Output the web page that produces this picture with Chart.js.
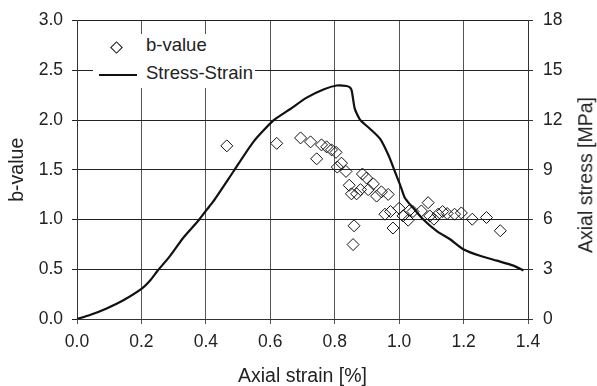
<!DOCTYPE html>
<html>
<head>
<meta charset="utf-8">
<script src="https://cdn.jsdelivr.net/npm/chart.js@4/dist/chart.umd.min.js"></script>
<style>
  html, body { margin: 0; padding: 0; background: #fff; }
  #wrap { position: relative; width: 597px; height: 386px; }
  #legend {
    position: absolute; left: 93px; top: 34px; width: 162px; height: 54px;
    background: #fff; font-family: "Liberation Sans", Arial, sans-serif;
    font-size: 18.5px; color: #222;
  }
  #legend .diamond {
    position: absolute; left: 19px; top: 9px; width: 7px; height: 7px;
    border: 1px solid #111; transform: rotate(45deg);
  }
  #legend .line {
    position: absolute; left: 6px; top: 40px; width: 38px; height: 2px; background: #111;
  }
  #legend .lbl { position: absolute; left: 53px; white-space: nowrap; }
  #rtitle {
    position: absolute; left: 586px; top: 175px; white-space: nowrap;
    font-family: "Liberation Sans", Arial, sans-serif; font-size: 19.5px; color: #222;
    line-height: 1; transform: translate(-50%, -50%) rotate(-90deg);
  }
</style>
</head>
<body>
<div id="wrap">
  <canvas id="chart" width="597" height="386"></canvas>
  <div id="legend">
    <span class="diamond"></span>
    <span class="lbl" style="top:0px">b-value</span>
    <span class="line"></span>
    <span class="lbl" style="top:28px">Stress-Strain</span>
  </div>
  <div id="rtitle">Axial stress [MPa]</div>
</div>
<script>
// b-value measurements
const bStrain = [0.465, 0.62, 0.694, 0.725, 0.744, 0.759, 0.775, 0.79, 0.804, 0.821, 0.808, 0.835,
  0.845, 0.852, 0.868, 0.88, 0.886, 0.899, 0.904, 0.92, 0.93, 0.945, 0.966, 0.956, 0.973, 0.981,
  1.0, 1.012, 1.028, 1.033, 1.043, 1.069, 1.09, 1.095, 1.108, 1.121, 1.135, 1.149, 1.172, 1.193,
  1.227, 1.271, 1.314, 0.86, 0.857];
const bValue = [1.74, 1.765, 1.82, 1.78, 1.61, 1.75, 1.73, 1.70, 1.675, 1.566, 1.527, 1.483,
  1.344, 1.258, 1.258, 1.30, 1.457, 1.417, 1.30, 1.358, 1.235, 1.278, 1.252, 1.053, 1.08, 0.914,
  1.113, 1.036, 0.993, 1.093, 1.08, 1.086, 1.169, 1.036, 1.003, 1.053, 1.08, 1.06, 1.053, 1.066,
  1.003, 1.02, 0.887, 0.937, 0.748];

// stress-strain curve
const curveStrain = [0, 0.040, 0.092, 0.144, 0.201, 0.227, 0.249, 0.289, 0.330, 0.377, 0.403,
  0.423, 0.485, 0.547, 0.609, 0.661, 0.713, 0.765, 0.806, 0.837, 0.848, 0.853, 0.862, 0.877,
  0.884, 0.910, 0.941, 0.967, 0.987, 1.003, 1.018, 1.034, 1.044, 1.075, 1.117, 1.158, 1.199,
  1.251, 1.303, 1.355, 1.386];
const curveStress = [0, 0.24, 0.64, 1.13, 1.83, 2.32, 2.88, 3.81, 4.90, 5.94, 6.60,
  7.09, 8.88, 10.67, 11.96, 12.65, 13.35, 13.84, 14.08, 14.05, 13.95, 13.75, 12.7, 12.06,
  11.90, 11.46, 10.86, 9.87, 8.88, 8.09, 7.29, 6.90, 6.69, 6.00, 5.30, 4.81, 4.21,
  3.81, 3.52, 3.22, 2.92];

const xTicks = [0, 0.2, 0.4, 0.6, 0.8, 1.0, 1.2, 1.4];
const bTicks = [0, 0.5, 1.0, 1.5, 2.0, 2.5, 3.0];
const stressTicks = [0, 3, 6, 9, 12, 15, 18];

const font = { family: '"Liberation Sans", Arial, sans-serif', size: 17.5 };
const titleFont = { family: '"Liberation Sans", Arial, sans-serif', size: 19.5, lineHeight: 1 };
const ink = '#222';

new Chart(document.getElementById('chart'), {
    type: 'scatter',
    data: {
        datasets: [{
            label: 'b-value',
            data: bStrain.map((x, i) => ({ x: x, y: bValue[i] })),
            yAxisID: 'y',
            pointStyle: 'rectRot',
            pointRadius: 6,
            borderColor: '#111',
            borderWidth: 1,
            backgroundColor: 'rgba(0,0,0,0)',
            order: 1
        }, {
            label: 'Stress-Strain',
            type: 'line',
            data: curveStrain.map((x, i) => ({ x: x, y: curveStress[i] })),
            yAxisID: 'y2',
            borderColor: '#111',
            borderWidth: 2.2,
            pointRadius: 0,
            tension: 0.2,
            fill: false,
            order: 2
        }]
    },
    options: {
        responsive: false,
        animation: false,
        layout: { padding: { top: 17, left: 0, right: 0, bottom: 0 } },
        plugins: { legend: { display: false }, tooltip: { enabled: false } },
        scales: {
            x: {
                type: 'linear', min: 0, max: 1.4,
                afterBuildTicks: s => { s.ticks = xTicks.map(v => ({ value: v })); },
                afterFit: s => { s.height = 67; },
                ticks: { font: font, color: ink, padding: 8, callback: v => v.toFixed(1) },
                grid: { color: '#555', tickLength: 5 },
                border: { color: '#333' },
                title: { display: true, text: 'Axial strain [%]', font: titleFont, color: ink, padding: { top: 0, bottom: 0 } }
            },
            y: {
                type: 'linear', position: 'left', min: 0, max: 3,
                afterBuildTicks: s => { s.ticks = bTicks.map(v => ({ value: v })); },
                afterFit: s => { s.width = 77; },
                ticks: { font: font, color: ink, padding: 9, callback: v => v.toFixed(1) },
                grid: { color: '#222', tickLength: 5 },
                border: { color: '#333' },
                title: { display: true, text: 'b-value', font: titleFont, color: ink, padding: { top: 8, bottom: 0 } }
            },
            y2: {
                type: 'linear', position: 'right', min: 0, max: 18,
                afterBuildTicks: s => { s.ticks = stressTicks.map(v => ({ value: v })); },
                afterFit: s => { s.width = 69; },
                ticks: { font: font, color: ink, padding: 10 },
                grid: { drawOnChartArea: false, color: '#333', tickLength: 5 },
                border: { color: '#333' },
                title: { display: false }
            }
        }
    }
});
</script>
</body>
</html>
